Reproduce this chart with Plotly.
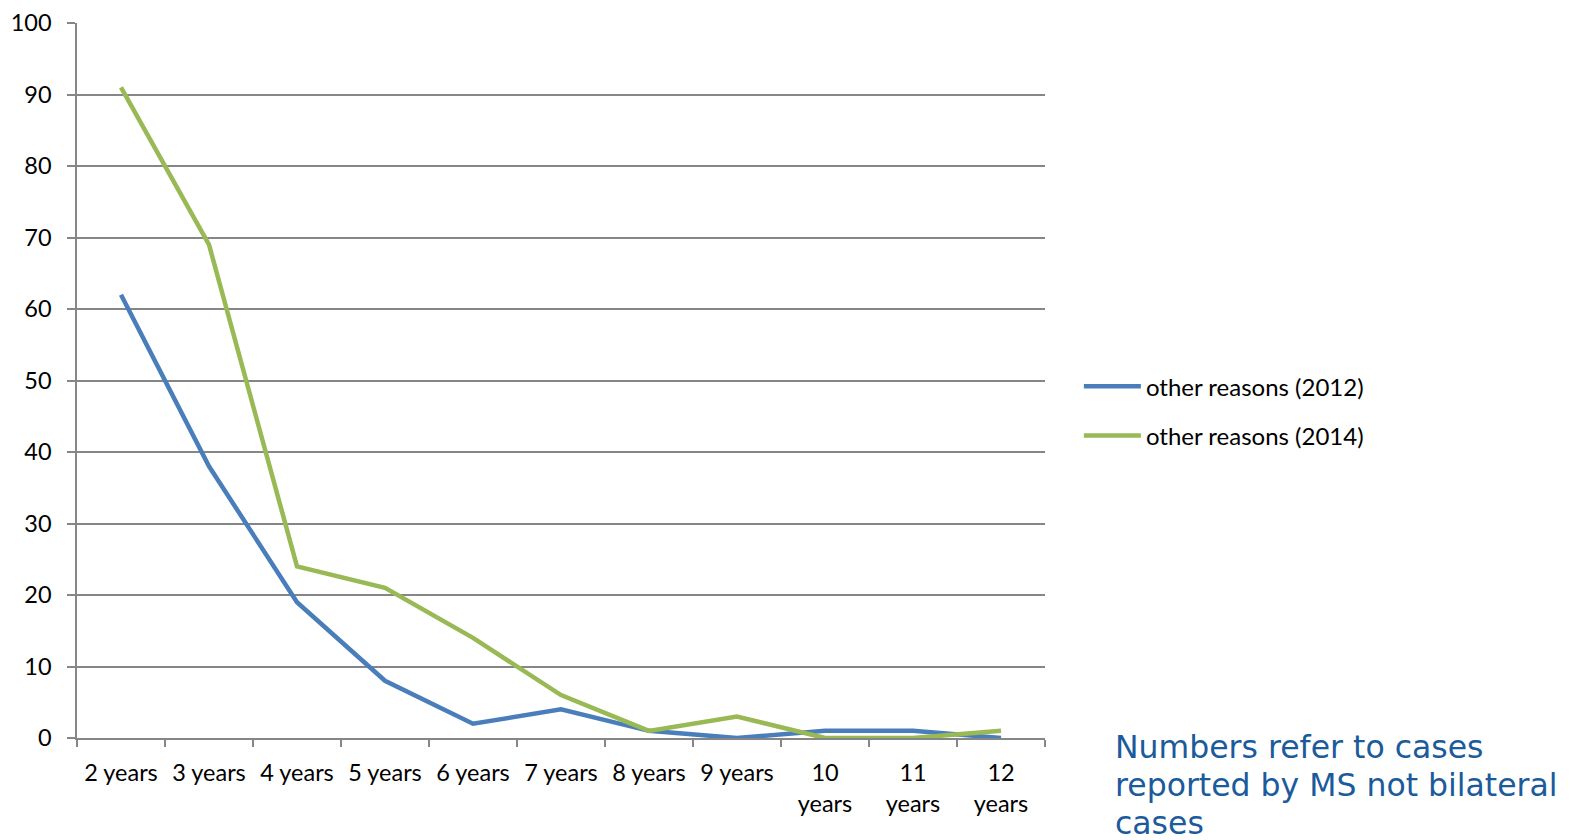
import plotly.graph_objects as go

categories = ["2 years", "3 years", "4 years", "5 years", "6 years", "7 years",
              "8 years", "9 years", "10<br>years", "11<br>years", "12<br>years"]
other_2012 = [62, 38, 19, 8, 2, 4, 1, 0, 1, 1, 0]
other_2014 = [91, 69, 24, 21, 14, 6, 1, 3, 0, 0, 1]
y_ticks = [0, 10, 20, 30, 40, 50, 60, 70, 80, 90, 100]
note_lines = ["Numbers refer to cases", "reported by MS not bilateral", "cases"]

AXIS_FONT = dict(family="Lato, Carlito, Calibri, sans-serif", size=23.5, color="#000000")
GRID = "#868686"

fig = go.Figure()
fig.add_trace(go.Scatter(x=categories, y=other_2012, mode="lines",
                         name="other reasons (2012)", legendgroup="a",
                         line=dict(color="#4A7EBB", width=4.5)))
fig.add_trace(go.Scatter(x=categories, y=other_2014, mode="lines",
                         name="other reasons (2014)", legendgroup="b",
                         line=dict(color="#98B954", width=4.5)))

# footnote, one annotation per line for even spacing
notes = []
for i, line in enumerate(note_lines):
    notes.append(dict(text=line, xref="paper", yref="paper",
                      x=1.0705, y=-0.0125 - i * 0.0531,
                      xanchor="left", yanchor="middle", align="left", showarrow=False,
                      font=dict(family="DejaVu Sans, Verdana, sans-serif", size=31.5,
                                color="#1B5A9B")))

fig.update_layout(
    width=1575, height=840,
    margin=dict(l=77, r=530, t=23, b=102, autoexpand=False),
    paper_bgcolor="white", plot_bgcolor="white",
    font=AXIS_FONT,
    showlegend=True,
    legend=dict(x=1.035, xanchor="left", y=0.457, yanchor="middle",
                font=dict(family="Lato, Carlito, Calibri, sans-serif", size=24, color="#000000"),
                traceorder="grouped", tracegroupgap=15, itemwidth=57,
                bgcolor="rgba(0,0,0,0)"),
    xaxis=dict(type="category", range=[-0.5, 10.5], tickson="boundaries",
               ticks="outside", ticklen=7, tickcolor=GRID, tickwidth=1.5,
               showline=True, linecolor=GRID, linewidth=1.5, automargin=False,
               showgrid=False, zeroline=False, ticklabelstandoff=13,
               tickfont=AXIS_FONT),
    yaxis=dict(range=[0, 100], tickvals=y_ticks, ticks="outside", ticklen=8,
               tickcolor=GRID, tickwidth=1.5, showline=True, linecolor=GRID,
               linewidth=1.5, showgrid=True, gridcolor=GRID, gridwidth=1.5,
               automargin=False, zeroline=False, ticklabelstandoff=11,
               tickfont=AXIS_FONT),
    annotations=notes,
)

fig.write_html("out.html")
